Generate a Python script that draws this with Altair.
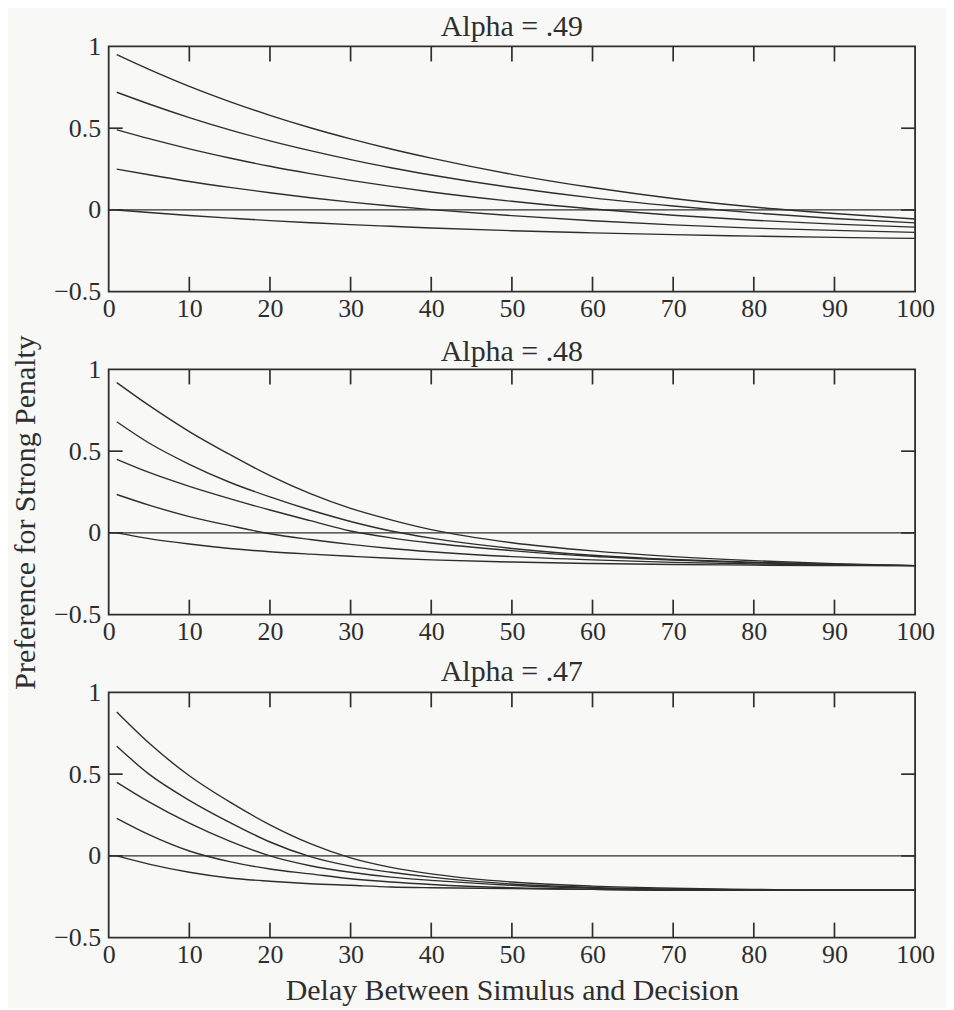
import altair as alt
import pandas as pd

# ---------------- data ----------------
X = [1, 5, 10, 15, 20, 25, 30, 35, 40, 50, 60, 70, 80, 90, 100]

TITLES = ["Alpha = .49", "Alpha = .48", "Alpha = .47"]
CURVES = ["A", "B", "C", "D", "E"]

# Alpha = .49
P1_A = [0.95, 0.86, 0.756, 0.663, 0.579, 0.503, 0.435, 0.373, 0.317, 0.218, 0.137, 0.070, 0.018, -0.022, -0.055]
P1_B = [0.72, 0.648, 0.565, 0.49, 0.423, 0.363, 0.308, 0.258, 0.214, 0.137, 0.074, 0.024, -0.018, -0.052, -0.079]
P1_C = [0.49, 0.436, 0.374, 0.318, 0.267, 0.222, 0.181, 0.144, 0.110, 0.053, 0.006, -0.032, -0.063, -0.087, -0.105]
P1_D = [0.25, 0.215, 0.174, 0.138, 0.105, 0.075, 0.048, 0.024, 0.002, -0.035, -0.066, -0.091, -0.111, -0.125, -0.137]
P1_E = [0.0, -0.016, -0.034, -0.05, -0.065, -0.078, -0.09, -0.10, -0.11, -0.127, -0.14, -0.151, -0.16, -0.168, -0.174]

# Alpha = .48
P2_A = [0.92, 0.78, 0.62, 0.48, 0.35, 0.24, 0.15, 0.08, 0.02, -0.06, -0.11, -0.145, -0.17, -0.188, -0.2]
P2_B = [0.68, 0.55, 0.42, 0.31, 0.22, 0.14, 0.07, 0.012, -0.032, -0.095, -0.137, -0.163, -0.18, -0.192, -0.2]
P2_C = [0.45, 0.37, 0.285, 0.21, 0.14, 0.075, 0.012, -0.03, -0.062, -0.108, -0.143, -0.166, -0.183, -0.194, -0.2]
P2_D = [0.235, 0.17, 0.10, 0.045, -0.005, -0.04, -0.07, -0.095, -0.115, -0.145, -0.165, -0.18, -0.19, -0.197, -0.2]
P2_E = [0.0, -0.035, -0.068, -0.095, -0.115, -0.13, -0.143, -0.155, -0.165, -0.178, -0.187, -0.193, -0.197, -0.2, -0.2]

# Alpha = .47
P3_A = [0.88, 0.69, 0.49, 0.33, 0.19, 0.075, -0.012, -0.07, -0.11, -0.16, -0.185, -0.198, -0.205, -0.21, -0.21]
P3_B = [0.67, 0.50, 0.34, 0.205, 0.085, -0.005, -0.063, -0.10, -0.13, -0.172, -0.193, -0.203, -0.208, -0.21, -0.21]
P3_C = [0.45, 0.33, 0.20, 0.09, 0.0, -0.06, -0.10, -0.13, -0.15, -0.18, -0.198, -0.205, -0.21, -0.21, -0.21]
P3_D = [0.23, 0.13, 0.03, -0.035, -0.08, -0.11, -0.14, -0.16, -0.175, -0.195, -0.205, -0.21, -0.21, -0.21, -0.21]
P3_E = [0.0, -0.05, -0.10, -0.135, -0.155, -0.17, -0.18, -0.19, -0.195, -0.2, -0.205, -0.21, -0.21, -0.21, -0.21]

PANELS = [
    [P1_A, P1_B, P1_C, P1_D, P1_E],
    [P2_A, P2_B, P2_C, P2_D, P2_E],
    [P3_A, P3_B, P3_C, P3_D, P3_E],
]

X_LABELS = [0, 10, 20, 30, 40, 50, 60, 70, 80, 90, 100]
X_INNER_TICKS = [10, 20, 30, 40, 50, 60, 70, 80, 90]
Y_LABELS = [-0.5, 0, 0.5, 1]
Y_INNER_TICKS = [0, 0.5]
ZERO_LINE = {"x": [0], "x2": [100], "y": [0]}

Y_TITLE = "Preference for Strong Penalty"
X_TITLE = "Delay Between Simulus and Decision"

# ---------------- style ----------------
FONT = "Liberation Serif"
INK = "#2e2e2e"
W, H = 809, 246
TICK = 15
TITLE_OFFSETS = [-8, -32, -8]

xs = alt.Scale(domain=[0, 100], nice=False, zero=False)
ys = alt.Scale(domain=[-0.5, 1], nice=False, zero=False)


def panel(idx):
    rows = []
    for name, vals in zip(CURVES, PANELS[idx]):
        for x, y in zip(X, vals):
            rows.append({"x": x, "y": y, "curve": name})
    df = pd.DataFrame(rows)

    xaxis = alt.Axis(
        values=X_LABELS, ticks=False, domain=False, grid=False,
        labelFont=FONT, labelFontSize=26, labelColor=INK, labelPadding=4,
        labelFlush=False,
        title=X_TITLE if idx == 2 else None,
        titleFont=FONT, titleFontSize=30, titleFontWeight="normal",
        titleColor=INK, titlePadding=8,
    )
    yaxis_kw = dict(
        values=Y_LABELS, ticks=False, domain=False, grid=False,
        labelFont=FONT, labelFontSize=26, labelColor=INK, labelPadding=8,
        labelFlush=False,
        labelExpr="datum.value == 0 ? '0' : format(datum.value, '.1~f')",
    )
    if idx == 1:
        yaxis = alt.Axis(
            title=Y_TITLE, titleFont=FONT, titleFontSize=30,
            titleFontWeight="normal", titleColor=INK,
            titleX=-68, titleY=143, titleAngle=270, titleBaseline="bottom",
            titleAlign="center",
            **yaxis_kw,
        )
    else:
        yaxis = alt.Axis(title=None, **yaxis_kw)

    X_ENC = alt.X("x:Q", scale=xs, axis=xaxis)
    Y_ENC = alt.Y("y:Q", scale=ys, axis=yaxis)

    lines = alt.Chart(df).mark_line(
        interpolate="monotone", color=INK, strokeWidth=1.4
    ).encode(x=X_ENC, y=Y_ENC, detail="curve:N")

    zero = alt.Chart(pd.DataFrame(ZERO_LINE)).mark_rule(
        color=INK, strokeWidth=1.3
    ).encode(x=X_ENC, x2="x2:Q", y=Y_ENC)

    xt = pd.DataFrame({"x": X_INNER_TICKS})
    ticks_bottom = alt.Chart(xt).mark_rule(color=INK, strokeWidth=1.7).encode(
        x=X_ENC, y=alt.value(H), y2=alt.value(H - TICK),
    )
    ticks_top = alt.Chart(xt).mark_rule(color=INK, strokeWidth=1.7).encode(
        x=X_ENC, y=alt.value(0), y2=alt.value(TICK),
    )
    yt = pd.DataFrame({"y": Y_INNER_TICKS})
    ticks_left = alt.Chart(yt).mark_rule(color=INK, strokeWidth=1.7).encode(
        y=Y_ENC, x=alt.value(0), x2=alt.value(TICK - 1),
    )
    ticks_right = alt.Chart(yt).mark_rule(color=INK, strokeWidth=1.7).encode(
        y=Y_ENC, x=alt.value(W), x2=alt.value(W - TICK + 1),
    )

    return alt.layer(
        lines, zero, ticks_bottom, ticks_top, ticks_left, ticks_right
    ).properties(
        width=W, height=H,
        title=alt.TitleParams(
            TITLES[idx], font=FONT, fontSize=30, fontWeight="normal",
            color=INK, offset=TITLE_OFFSETS[idx], anchor="middle",
        ),
    )


chart = alt.vconcat(
    panel(0), panel(1), panel(2), spacing=78, bounds="flush"
).properties(
    padding={"left": 2, "top": 1, "right": 10, "bottom": 0},
    background="#f8f8f6",
).configure_view(
    stroke=INK, strokeWidth=1.8
)

chart.save("out.html", embed_options={"renderer": "svg", "actions": False})
